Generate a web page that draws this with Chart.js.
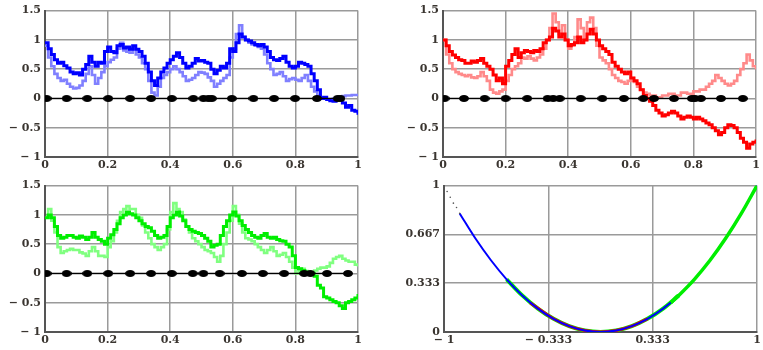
<!DOCTYPE html>
<html>
<head>
<meta charset="utf-8">
<script src="https://cdn.jsdelivr.net/npm/chart.js@4.4.1/dist/chart.umd.min.js"></script>
<style>
  body { margin: 0; background: #fff; width: 763px; height: 350px; position: relative; overflow: hidden; }
  canvas { position: absolute; }
</style>
</head>
<body>
<canvas id="c1" width="380" height="175" style="left:0;top:0"></canvas>
<canvas id="c2" width="383" height="175" style="left:380px;top:0"></canvas>
<canvas id="c3" width="380" height="175" style="left:0;top:175px"></canvas>
<canvas id="c4" width="383" height="175" style="left:380px;top:175px"></canvas>
<script>
// --- data: [t, value] ---
const blueDark = [[0,0.95],[0.01,0.85],[0.02,0.75],[0.03,0.66],[0.04,0.6],[0.05,0.62],[0.06,0.56],[0.07,0.52],[0.08,0.45],[0.09,0.42],[0.1,0.44],[0.11,0.4],[0.12,0.5],[0.13,0.58],[0.14,0.72],[0.15,0.62],[0.16,0.55],[0.17,0.62],[0.18,0.6],[0.19,0.8],[0.2,0.88],[0.21,0.8],[0.22,0.78],[0.23,0.9],[0.24,0.92],[0.25,0.86],[0.26,0.88],[0.27,0.84],[0.28,0.9],[0.29,0.84],[0.3,0.8],[0.31,0.72],[0.32,0.6],[0.33,0.45],[0.34,0.3],[0.35,0.22],[0.36,0.35],[0.37,0.45],[0.38,0.52],[0.39,0.6],[0.4,0.66],[0.41,0.72],[0.42,0.78],[0.43,0.7],[0.44,0.6],[0.45,0.52],[0.46,0.55],[0.47,0.6],[0.48,0.68],[0.49,0.64],[0.5,0.65],[0.51,0.62],[0.52,0.6],[0.53,0.5],[0.54,0.42],[0.55,0.48],[0.56,0.55],[0.57,0.52],[0.58,0.6],[0.59,0.85],[0.6,0.8],[0.61,0.95],[0.62,1.1],[0.63,1.05],[0.64,1.0],[0.65,0.98],[0.66,0.95],[0.67,0.92],[0.68,0.9],[0.69,0.92],[0.7,0.88],[0.71,0.8],[0.72,0.7],[0.73,0.66],[0.74,0.65],[0.75,0.68],[0.76,0.72],[0.77,0.62],[0.78,0.55],[0.79,0.52],[0.8,0.55],[0.81,0.62],[0.82,0.6],[0.83,0.58],[0.84,0.55],[0.85,0.42],[0.86,0.3],[0.87,0.15],[0.88,0.0],[0.89,0.02],[0.9,-0.02],[0.91,-0.04],[0.92,-0.05],[0.93,0.0],[0.94,0.0],[0.95,-0.08],[0.96,-0.15],[0.97,-0.12],[0.98,-0.2],[0.99,-0.22],[1,-0.28]];
const blueLight = [[0,0.9],[0.01,0.7],[0.02,0.55],[0.03,0.42],[0.04,0.35],[0.05,0.3],[0.06,0.32],[0.07,0.25],[0.08,0.2],[0.09,0.17],[0.1,0.18],[0.11,0.22],[0.12,0.3],[0.13,0.42],[0.14,0.55],[0.15,0.4],[0.16,0.25],[0.17,0.35],[0.18,0.45],[0.19,0.55],[0.2,0.62],[0.21,0.66],[0.22,0.7],[0.23,0.85],[0.24,0.95],[0.25,0.82],[0.26,0.8],[0.27,0.78],[0.28,0.85],[0.29,0.75],[0.3,0.7],[0.31,0.6],[0.32,0.5],[0.33,0.3],[0.34,0.1],[0.35,0.05],[0.36,0.2],[0.37,0.35],[0.38,0.4],[0.39,0.45],[0.4,0.5],[0.41,0.55],[0.42,0.5],[0.43,0.45],[0.44,0.38],[0.45,0.3],[0.46,0.32],[0.47,0.35],[0.48,0.4],[0.49,0.45],[0.5,0.44],[0.51,0.42],[0.52,0.36],[0.53,0.3],[0.54,0.2],[0.55,0.25],[0.56,0.3],[0.57,0.35],[0.58,0.4],[0.59,0.7],[0.6,0.85],[0.61,1.1],[0.62,1.25],[0.63,1.05],[0.64,1.0],[0.65,0.95],[0.66,0.92],[0.67,0.9],[0.68,0.88],[0.69,0.85],[0.7,0.75],[0.71,0.6],[0.72,0.5],[0.73,0.4],[0.74,0.42],[0.75,0.45],[0.76,0.38],[0.77,0.3],[0.78,0.33],[0.79,0.35],[0.8,0.32],[0.81,0.3],[0.82,0.35],[0.83,0.4],[0.84,0.3],[0.85,0.2],[0.86,0.12],[0.87,0.05],[0.88,0.0],[0.89,0.0],[0.9,-0.02],[0.92,0.0],[0.93,0.02],[0.95,0.04],[0.96,0.05],[0.98,0.06],[1,0.05]];
const blueDots = [0.005,0.069,0.135,0.202,0.272,0.339,0.405,0.474,0.506,0.522,0.533,0.597,0.666,0.732,0.799,0.869,0.935,0.944];

const redDark = [[0,1.0],[0.01,0.9],[0.02,0.8],[0.03,0.74],[0.04,0.7],[0.05,0.66],[0.06,0.65],[0.07,0.6],[0.08,0.6],[0.09,0.64],[0.1,0.62],[0.11,0.65],[0.12,0.68],[0.13,0.6],[0.14,0.55],[0.15,0.5],[0.16,0.4],[0.17,0.3],[0.18,0.35],[0.19,0.25],[0.2,0.55],[0.21,0.65],[0.22,0.75],[0.23,0.85],[0.24,0.7],[0.25,0.78],[0.26,0.82],[0.27,0.8],[0.28,0.78],[0.29,0.82],[0.3,0.8],[0.31,0.85],[0.32,0.95],[0.33,1.0],[0.34,1.05],[0.35,1.2],[0.36,1.15],[0.37,1.05],[0.38,1.1],[0.39,1.0],[0.4,0.9],[0.41,0.92],[0.42,0.95],[0.43,1.05],[0.44,0.95],[0.45,1.0],[0.46,1.1],[0.47,1.18],[0.48,1.1],[0.49,1.0],[0.5,0.9],[0.51,0.85],[0.52,0.8],[0.53,0.75],[0.54,0.62],[0.55,0.55],[0.56,0.5],[0.57,0.45],[0.58,0.42],[0.59,0.45],[0.6,0.35],[0.61,0.3],[0.62,0.25],[0.63,0.15],[0.64,0.05],[0.65,0.0],[0.66,-0.05],[0.67,-0.12],[0.68,-0.2],[0.69,-0.25],[0.7,-0.3],[0.71,-0.28],[0.72,-0.25],[0.73,-0.22],[0.74,-0.25],[0.75,-0.3],[0.76,-0.35],[0.77,-0.32],[0.78,-0.3],[0.79,-0.32],[0.8,-0.35],[0.81,-0.32],[0.82,-0.35],[0.83,-0.38],[0.84,-0.42],[0.85,-0.45],[0.86,-0.5],[0.87,-0.55],[0.88,-0.62],[0.89,-0.58],[0.9,-0.5],[0.91,-0.45],[0.92,-0.46],[0.93,-0.5],[0.94,-0.58],[0.95,-0.68],[0.96,-0.75],[0.97,-0.85],[0.98,-0.78],[0.99,-0.75],[1,-0.7]];
const redLight = [[0,1.0],[0.01,0.75],[0.02,0.6],[0.03,0.5],[0.04,0.45],[0.05,0.42],[0.06,0.4],[0.07,0.38],[0.08,0.4],[0.09,0.36],[0.1,0.35],[0.11,0.38],[0.12,0.45],[0.13,0.38],[0.14,0.3],[0.15,0.15],[0.16,0.1],[0.17,0.08],[0.18,0.12],[0.19,0.15],[0.2,0.3],[0.21,0.4],[0.22,0.5],[0.23,0.55],[0.24,0.6],[0.25,0.7],[0.26,0.68],[0.27,0.72],[0.28,0.68],[0.29,0.65],[0.3,0.7],[0.31,0.75],[0.32,0.85],[0.33,1.0],[0.34,1.2],[0.35,1.45],[0.36,1.3],[0.37,1.1],[0.38,1.25],[0.39,1.0],[0.4,0.85],[0.41,0.9],[0.42,1.05],[0.43,1.35],[0.44,1.2],[0.45,1.0],[0.46,1.3],[0.47,1.38],[0.48,1.2],[0.49,0.9],[0.5,0.7],[0.51,0.65],[0.52,0.6],[0.53,0.5],[0.54,0.4],[0.55,0.35],[0.56,0.3],[0.57,0.28],[0.58,0.25],[0.59,0.3],[0.6,0.35],[0.61,0.28],[0.62,0.2],[0.63,0.15],[0.64,0.1],[0.65,0.08],[0.66,0.05],[0.68,0.02],[0.7,0.05],[0.72,0.08],[0.74,0.05],[0.76,0.1],[0.78,0.08],[0.8,0.12],[0.82,0.15],[0.84,0.2],[0.85,0.25],[0.86,0.3],[0.87,0.4],[0.88,0.35],[0.89,0.3],[0.9,0.25],[0.91,0.22],[0.92,0.25],[0.93,0.3],[0.94,0.4],[0.95,0.5],[0.96,0.6],[0.97,0.75],[0.98,0.65],[0.99,0.55],[1,0.5]];
const redDots = [0.005,0.067,0.133,0.2,0.269,0.334,0.352,0.373,0.44,0.509,0.578,0.64,0.674,0.738,0.795,0.805,0.824,0.888,0.958];

const greenDark = [[0,0.95],[0.01,1.0],[0.02,0.95],[0.03,0.8],[0.04,0.65],[0.05,0.6],[0.06,0.62],[0.07,0.65],[0.08,0.65],[0.09,0.62],[0.1,0.6],[0.11,0.64],[0.12,0.62],[0.13,0.58],[0.14,0.62],[0.15,0.7],[0.16,0.62],[0.17,0.58],[0.18,0.55],[0.19,0.5],[0.2,0.6],[0.21,0.66],[0.22,0.75],[0.23,0.85],[0.24,0.95],[0.25,1.0],[0.26,1.05],[0.27,1.02],[0.28,1.0],[0.29,0.95],[0.3,0.9],[0.31,0.85],[0.32,0.8],[0.33,0.78],[0.34,0.72],[0.35,0.65],[0.36,0.6],[0.37,0.62],[0.38,0.65],[0.39,0.8],[0.4,0.95],[0.41,1.0],[0.42,1.05],[0.43,0.98],[0.44,0.9],[0.45,0.8],[0.46,0.75],[0.47,0.72],[0.48,0.7],[0.49,0.68],[0.5,0.65],[0.51,0.6],[0.52,0.55],[0.53,0.45],[0.54,0.48],[0.55,0.5],[0.56,0.65],[0.57,0.8],[0.58,0.9],[0.59,1.0],[0.6,1.05],[0.61,0.98],[0.62,0.9],[0.63,0.82],[0.64,0.75],[0.65,0.7],[0.66,0.65],[0.67,0.62],[0.68,0.6],[0.69,0.65],[0.7,0.68],[0.71,0.62],[0.72,0.6],[0.73,0.62],[0.74,0.58],[0.75,0.56],[0.76,0.55],[0.77,0.5],[0.78,0.45],[0.79,0.3],[0.8,0.1],[0.81,0.08],[0.82,0.05],[0.83,0.02],[0.84,0.0],[0.85,0.0],[0.86,-0.05],[0.87,-0.2],[0.88,-0.25],[0.89,-0.4],[0.9,-0.42],[0.91,-0.45],[0.92,-0.48],[0.93,-0.5],[0.94,-0.55],[0.95,-0.6],[0.96,-0.5],[0.97,-0.48],[0.98,-0.45],[0.99,-0.42],[1,-0.35]];
const greenLight = [[0,0.95],[0.01,1.1],[0.02,0.9],[0.03,0.7],[0.04,0.45],[0.05,0.35],[0.06,0.38],[0.07,0.4],[0.08,0.42],[0.09,0.4],[0.1,0.4],[0.11,0.36],[0.12,0.34],[0.13,0.3],[0.14,0.38],[0.15,0.45],[0.16,0.38],[0.17,0.3],[0.18,0.3],[0.19,0.28],[0.2,0.45],[0.21,0.55],[0.22,0.7],[0.23,0.9],[0.24,1.05],[0.25,1.1],[0.26,1.15],[0.27,1.1],[0.28,1.1],[0.29,1.0],[0.3,0.95],[0.31,0.82],[0.32,0.7],[0.33,0.6],[0.34,0.5],[0.35,0.45],[0.36,0.4],[0.37,0.45],[0.38,0.5],[0.39,0.75],[0.4,1.05],[0.41,1.2],[0.42,1.1],[0.43,1.05],[0.44,0.92],[0.45,0.8],[0.46,0.7],[0.47,0.6],[0.48,0.55],[0.49,0.5],[0.5,0.45],[0.51,0.4],[0.52,0.38],[0.53,0.35],[0.54,0.28],[0.55,0.2],[0.56,0.3],[0.57,0.5],[0.58,0.7],[0.59,0.9],[0.6,1.15],[0.61,1.0],[0.62,0.85],[0.63,0.7],[0.64,0.6],[0.65,0.58],[0.66,0.55],[0.67,0.5],[0.68,0.45],[0.69,0.4],[0.7,0.35],[0.71,0.4],[0.72,0.45],[0.73,0.38],[0.74,0.3],[0.75,0.32],[0.76,0.35],[0.77,0.28],[0.78,0.2],[0.79,0.1],[0.8,0.0],[0.81,0.05],[0.82,0.08],[0.83,0.04],[0.84,0.0],[0.85,0.02],[0.86,0.05],[0.87,0.08],[0.88,0.1],[0.89,0.1],[0.9,0.12],[0.91,0.18],[0.92,0.25],[0.93,0.28],[0.94,0.3],[0.95,0.25],[0.96,0.22],[0.97,0.2],[0.98,0.2],[0.99,0.15],[1,0.12]];
const greenDots = [0.005,0.069,0.135,0.202,0.272,0.339,0.405,0.472,0.506,0.558,0.629,0.696,0.764,0.828,0.848,0.901,0.968];

// parabola panel: [x, y]
const paraGreenLeft = [[-0.6,0.36],[-0.5,0.25],[-0.4,0.16],[-0.3,0.09],[-0.2,0.04],[-0.1,0.01],[0,0],[0.1,0.01],[0.2,0.04],[0.3,0.09],[0.4,0.16],[0.5,0.25]];
const paraGreenRight = [[0.45,0.2],[0.5,0.25],[0.6,0.36],[0.7,0.49],[0.8,0.64],[0.9,0.81],[1,1]];
const paraRed = [[-0.45,0.2],[-0.3,0.09],[-0.2,0.04],[-0.1,0.01],[0,0],[0.1,0.01],[0.2,0.04],[0.3,0.09]];
const paraBlue = [[-0.9,0.81],[-0.8,0.64],[-0.7,0.49],[-0.6,0.36],[-0.5,0.25],[-0.4,0.16],[-0.3,0.09],[-0.2,0.04],[-0.1,0.01],[0,0],[0.1,0.01],[0.2,0.04],[0.3,0.09],[0.4,0.16],[0.5,0.25],[0.6,0.36],[0.7,0.49],[0.8,0.64],[0.9,0.81],[1,1]];
const paraBlack = [[-0.98,0.96],[-0.96,0.92],[-0.94,0.88],[-0.92,0.85],[-0.9,0.81]];

const walkTicksY = [-1, -0.5, 0, 0.5, 1, 1.5];
const walkTicksX = [0, 0.2, 0.4, 0.6, 0.8, 1];
const paraTicksX = [-1, -0.333, 0.333, 1];
const paraTicksY = [0, 0.333, 0.667, 1];

const FONT = { family: '"DejaVu Serif", "Liberation Serif", serif', size: 11, weight: 'bold' };
const LABEL = '#3a3530';
const GRID = '#9a9a9a';

function fmt(v) {
  return v < 0 ? '\u2212 ' + String(Math.abs(v)) : String(v);
}

function toXY(arr) { return arr.map(p => ({ x: p[0], y: p[1] })); }

function ellipseDot(w, h) {
  const c = document.createElement('canvas');
  c.width = w; c.height = h;
  const g = c.getContext('2d');
  g.fillStyle = '#000';
  g.beginPath();
  g.ellipse(w / 2, h / 2, w / 2, h / 2, 0, 0, Math.PI * 2);
  g.fill();
  return c;
}
const dotImg = ellipseDot(10, 7);

function axis(min, max, ticks, isY, size) {
  return {
    type: 'linear', min: min, max: max,
    afterBuildTicks: s => { s.ticks = ticks.map(v => ({ value: v })); },
    afterFit: s => { if (isY) s.width = size; else s.height = size; },
    grid: { color: GRID, lineWidth: 1.5, drawTicks: false },
    border: { display: true, color: '#555', width: 2 },
    ticks: {
      font: FONT, color: LABEL, padding: isY ? 4 : 2,
      maxRotation: 0, autoSkip: false,
      callback: v => fmt(v)
    }
  };
}

function walkChart(id, dark, light, dots, cDark, cLight, yWidth, padRight) {
  new Chart(document.getElementById(id), {
    type: 'line',
    data: {
      datasets: [
        { data: dots.map(t => ({ x: t, y: 0 })), borderColor: '#000', borderWidth: 1.2,
          pointStyle: dotImg, pointRadius: 5, order: 0 },
        { data: toXY(dark), borderColor: cDark, borderWidth: 3, pointRadius: 0, stepped: true, order: 1 },
        { data: toXY(light), borderColor: cLight, borderWidth: 2.6, pointRadius: 0, stepped: true, order: 2 }
      ]
    },
    options: {
      responsive: false, animation: false,
      layout: { padding: { left: 0, top: 10, right: padRight, bottom: 0 } },
      plugins: { legend: { display: false }, tooltip: { enabled: false } },
      scales: {
        x: axis(0, 1, walkTicksX, false, 18),
        y: axis(-1, 1.5, walkTicksY, true, yWidth)
      }
    }
  });
}

walkChart('c1', blueDark, blueLight, blueDots, '#0000ff', '#8080ff', 45, 22);
walkChart('c2', redDark, redLight, redDots, '#ff0000', '#ff8a8a', 63, 7);
walkChart('c3', greenDark, greenLight, greenDots, '#00ee00', '#80ff80', 45, 22);

new Chart(document.getElementById('c4'), {
  type: 'line',
  data: {
    datasets: [
      { data: toXY(paraBlack), showLine: false, pointRadius: 0.8, pointBackgroundColor: '#555',
        pointBorderWidth: 0, order: 0 },
      { data: toXY(paraGreenRight), borderColor: '#00ee00', borderWidth: 3.5, pointRadius: 0,
        cubicInterpolationMode: 'monotone', order: 1 },
      { data: toXY(paraBlue), borderColor: '#0000ff', borderWidth: 2, pointRadius: 0,
        cubicInterpolationMode: 'monotone', order: 2 },
      { data: toXY(paraRed), borderColor: '#ff0000', borderWidth: 3, pointRadius: 0,
        cubicInterpolationMode: 'monotone', order: 3 },
      { data: toXY(paraGreenLeft), borderColor: '#00ee00', borderWidth: 4, pointRadius: 0,
        cubicInterpolationMode: 'monotone', order: 4 }
    ]
  },
  options: {
    responsive: false, animation: false,
    layout: { padding: { left: 0, top: 7, right: 6, bottom: 0 } },
    plugins: { legend: { display: false }, tooltip: { enabled: false } },
    scales: {
      x: axis(-1, 1, paraTicksX, false, 18),
      y: axis(0, 1, paraTicksY, true, 64)
    }
  }
});
</script>
</body>
</html>
